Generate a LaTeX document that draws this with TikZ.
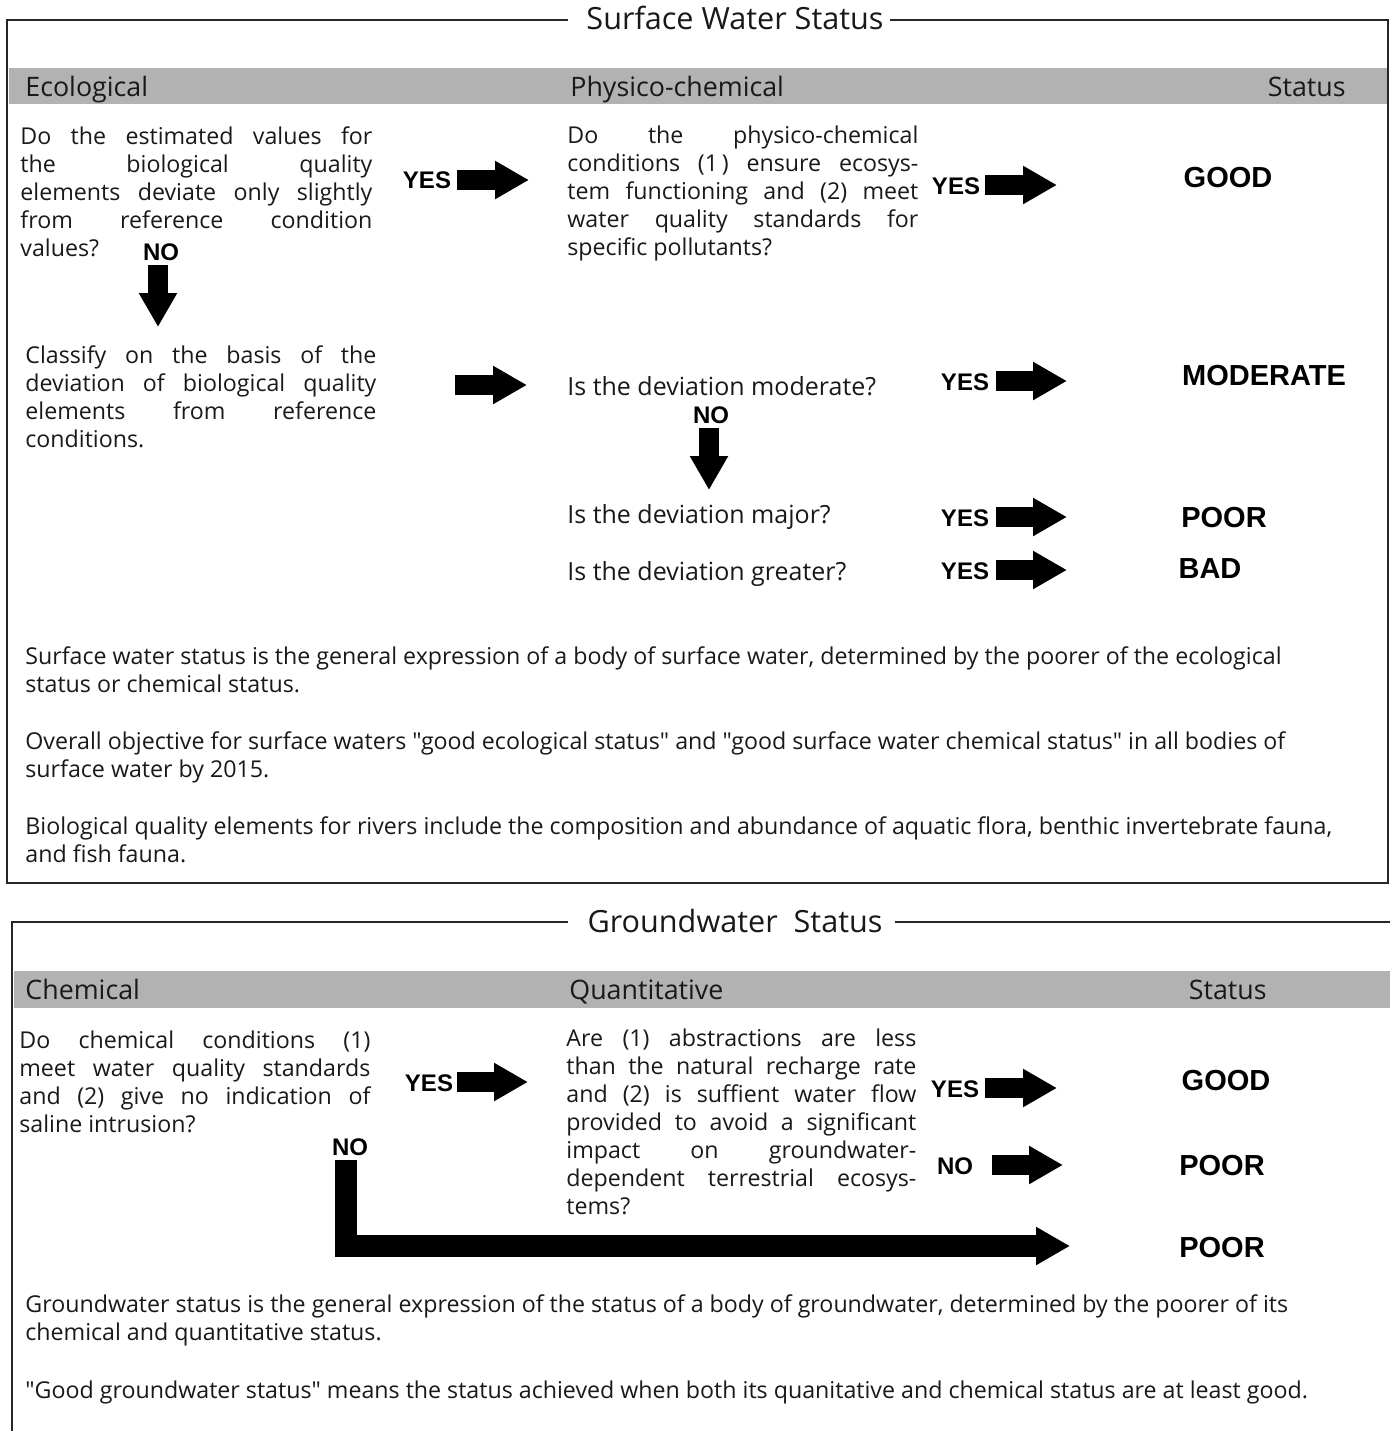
\documentclass[tikz,border=0pt]{standalone}
\usepackage{fontspec}
\setmainfont{Open Sans}[Ligatures=TeXOff]
\newfontfamily\labfont{Liberation Sans}
\usetikzlibrary{arrows.meta}
\newlength\parw
\newcommand\JL[1]{\makebox[\parw][s]{#1}}
\newcommand\JPar[2]{\setlength\parw{#1}\begin{tabular}[t]{@{}l@{}}#2\end{tabular}}
\begin{document}
\begin{tikzpicture}[x=0.5pt,y=-0.5pt,
 body/.style={font=\fontsize{11.6}{14}\selectfont, inner sep=0pt, anchor=base west, text=black!90},
 qline/.style={body, font=\fontsize{12.5}{14}\selectfont},
 hdr/.style={font=\fontsize{13.4}{15}\selectfont, inner sep=0pt, text=black!90},
 ttl/.style={font=\fontsize{15.3}{17}\selectfont, inner sep=0pt, anchor=base, text=black!90},
 lab/.style={font=\labfont\bfseries\fontsize{12}{14}\selectfont, inner sep=0pt},
 stat/.style={font=\labfont\bfseries\fontsize{14.5}{16}\selectfont, inner sep=0pt},
 blk/.style={line width=10pt, -{Triangle[length=17pt,width=18pt]}},
 frame/.style={line width=1.2pt, black!85},
 band/.style={fill=black!30}]
\useasboundingbox (0,0) rectangle (1390,1431);
\fill[white] (0,0) rectangle (1390,1431);
% ---------- Surface water box
\fill[band] (9,68) rectangle (1387,104);
\node[ttl] (t1) at (735,29) {Surface Water Status};
\draw[frame] (568,20) -- (7,20) -- (7,883) -- (1388,883) -- (1388,20) -- (890,20);
\node[hdr, anchor=base west] (h1) at (25,96) {Ecological};
\node[hdr, anchor=base west] (h2) at (570,96) {Physico-chemical};
\node[hdr, anchor=base east] (h3) at (1346,96) {Status};

\node[body] (q1) at (20,144) {\JPar{176pt}{\JL{Do the estimated values for}\\ \JL{the biological quality}\\ \JL{elements deviate only slightly}\\ \JL{from reference condition}\\ values?}};
\node[body] (q2) at (567,143) {\JPar{175.5pt}{\JL{Do the physico-chemical}\\ \JL{conditions (1\,) ensure ecosys-}\\ \JL{tem functioning and (2) meet}\\ \JL{water quality standards for}\\ specific pollutants?}};
\node[body] (q3) at (25,363) {\JPar{175.5pt}{\JL{Classify on the basis of the}\\ \JL{deviation of biological quality}\\ \JL{elements from reference}\\ conditions.}};
\node[qline] (q4) at (567,395) {Is the deviation moderate?};
\node[qline] (q5) at (567,523) {Is the deviation major?};
\node[qline] (q6) at (567,580) {Is the deviation greater?};

\node[lab] (yes1) at (427,180) {YES};
\node[lab] (yes2) at (956,186) {YES};
\node[lab] (yes3) at (965,382) {YES};
\node[lab] (yes4) at (965,518) {YES};
\node[lab] (yes5) at (965,571) {YES};
\node[lab] (no1) at (161,252) {NO};
\node[lab] (no2) at (711,415) {NO};

\node[stat] (s1) at (1228,178) {GOOD};
\node[stat] (s2) at (1264,376) {MODERATE};
\node[stat] (s3) at (1224,518) {POOR};
\node[stat] (s4) at (1210,569) {BAD};

\coordinate (a1s) at (457,180); \coordinate (a1e) at (529,180);
\coordinate (a2s) at (985,185); \coordinate (a2e) at (1057,185);
\coordinate (a3s) at (455,385); \coordinate (a3e) at (527,385);
\coordinate (a4s) at (996,381); \coordinate (a4e) at (1067,381);
\coordinate (a5s) at (996,517); \coordinate (a5e) at (1067,517);
\coordinate (a6s) at (996,570); \coordinate (a6e) at (1067,570);
\coordinate (d1s) at (158,265); \coordinate (d1e) at (158,327);
\coordinate (d2s) at (709,428); \coordinate (d2e) at (709,490);
\foreach \a in {a1,a2,a3,a4,a5,a6,d1,d2} \draw[blk] (\a s) -- (\a e);

\node[body] (p1) at (25,664) {\JPar{640pt}{Surface water status is the general expression of a body of surface water, determined by the poorer of the ecological\\ status or chemical status.}};
\node[body] (p2) at (25,749) {\JPar{640pt}{Overall objective for surface waters "good ecological status" and "good surface water chemical status" in all bodies of\\ surface water by 2015.}};
\node[body] (p3) at (25,834) {\JPar{640pt}{Biological quality elements for rivers include the composition and abundance of aquatic flora, benthic invertebrate fauna,\\ and fish fauna.}};

% ---------- Groundwater box
\fill[band] (14,971) rectangle (1390,1008);
\node[ttl] (t2) at (735,932) {Groundwater\ \ Status};
\draw[frame] (568,922) -- (12,922) -- (12,1431);
\draw[frame] (895,922) -- (1390,922);
\node[hdr, anchor=base west] (g1) at (25,999) {Chemical};
\node[hdr, anchor=base west] (g2) at (569,999) {Quantitative};
\node[hdr, anchor=base east] (g3) at (1267,999) {Status};

\node[body] (c1) at (19,1048) {\JPar{175.5pt}{\JL{Do chemical conditions (1)}\\ \JL{meet water quality standards}\\ \JL{and (2) give no indication of}\\ saline intrusion?}};
\node[body] (c2) at (566,1046) {\JPar{175pt}{\JL{Are (1) abstractions are less}\\ \JL{than the natural recharge rate}\\ \JL{and (2) is suffient water flow}\\ \JL{provided to avoid a significant}\\ \JL{impact on groundwater-}\\ \JL{dependent terrestrial ecosys-}\\ tems?}};

\node[lab] (yes6) at (429,1083) {YES};
\node[lab] (yes7) at (955,1089) {YES};
\node[lab] (no3) at (955,1166) {NO};
\node[lab] (no4) at (350,1147) {NO};

\node[stat] (s5) at (1226,1081) {GOOD};
\node[stat] (s6) at (1222,1166) {POOR};
\node[stat] (s7) at (1222,1247) {POOR};

\coordinate (b1s) at (457,1082); \coordinate (b1e) at (528,1082);
\coordinate (b2s) at (985,1088); \coordinate (b2e) at (1057,1088);
\coordinate (b3s) at (992,1165); \coordinate (b3e) at (1063,1165);
\foreach \a in {b1,b2,b3} \draw[blk] (\a s) -- (\a e);
\coordinate (b4s) at (346,1160); \coordinate (b4e) at (1070,1246);
\draw[blk, line width=11pt, line join=miter] (b4s) |- (b4e);

\node[body] (p4) at (25,1312) {\JPar{640pt}{Groundwater status is the general expression of the status of a body of groundwater, determined by the poorer of its\\ chemical and quantitative status.}};
\node[body] (p5) at (25,1398) {"Good groundwater status" means the status achieved when both its quanitative and chemical status are at least good.};
\end{tikzpicture}
\end{document}
